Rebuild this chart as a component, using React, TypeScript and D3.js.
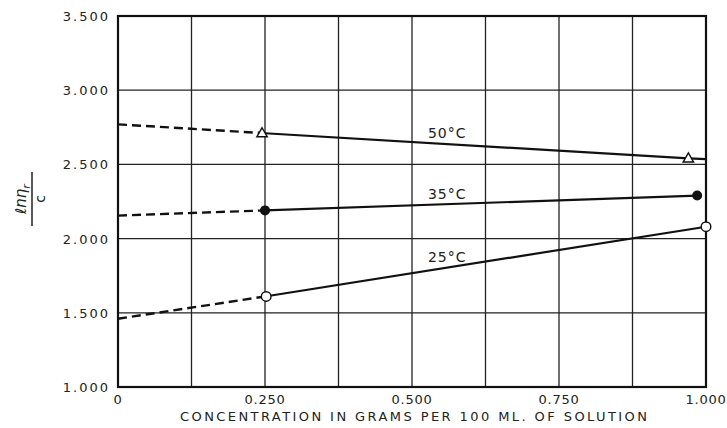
import React from "react";
import * as d3 from "d3";

const xTicks = [0, 0.25, 0.5, 0.75, 1.0];
const xTickLabels = ["0", "0.250", "0.500", "0.750", "1.000"];
const xGrid = [0, 0.125, 0.25, 0.375, 0.5, 0.625, 0.75, 0.875, 1.0];
const yTicks = [1.0, 1.5, 2.0, 2.5, 3.0, 3.5];
const yTickLabels = ["1.000", "1.500", "2.000", "2.500", "3.000", "3.500"];

const seriesNames = ["50°C", "35°C", "25°C"];
// extrapolated (dashed) segments: [x, y]
const dashed50: [number, number][] = [[0, 2.77], [0.25, 2.71]];
const dashed35: [number, number][] = [[0, 2.155], [0.25, 2.19]];
const dashed25: [number, number][] = [[0, 1.46], [0.25, 1.61]];
// measured (solid) segments
const solid50: [number, number][] = [[0.25, 2.71], [0.97, 2.54], [1.0, 2.535]];
const solid35: [number, number][] = [[0.25, 2.19], [0.985, 2.29]];
const solid25: [number, number][] = [[0.25, 1.61], [1.0, 2.08]];
// markers
const points50: [number, number][] = [[0.245, 2.71], [0.97, 2.54]];
const points35: [number, number][] = [[0.25, 2.19], [0.985, 2.29]];
const points25: [number, number][] = [[0.252, 1.61], [1.0, 2.08]];
// label anchors [x, y]
const labelPos: [number, number][] = [[0.527, 2.68], [0.527, 2.27], [0.527, 1.84]];

const W = 727;
const H = 428;
const left = 118, right = 706, top = 16, bottom = 387;

export default function App() {
  const x = d3.scaleLinear().domain([0, 1]).range([left, right]);
  const y = d3.scaleLinear().domain([1, 3.5]).range([bottom, top]);
  const line = d3.line<[number, number]>().x(d => x(d[0])).y(d => y(d[1]));
  const font = "'DejaVu Sans', sans-serif";

  const tri = (cx: number, cy: number, r: number) =>
    `M${cx},${cy - r} L${cx + r * 0.95},${cy + r * 0.65} L${cx - r * 0.95},${cy + r * 0.65} Z`;

  return (
    <svg width={W} height={H} style={{ position: "absolute", left: 0, top: 0, background: "#fff" }}>
      {/* grid */}
      {xGrid.map((g, i) => (
        <line key={"xg" + i} x1={x(g)} x2={x(g)} y1={top} y2={bottom} stroke="#222" strokeWidth={1.3} />
      ))}
      {yTicks.map((g, i) => (
        <line key={"yg" + i} x1={left} x2={right} y1={y(g)} y2={y(g)} stroke="#222" strokeWidth={1.3} />
      ))}
      {/* frame */}
      <rect x={left} y={top} width={right - left} height={bottom - top} fill="none" stroke="#111" strokeWidth={2.2} />

      {/* y tick labels */}
      {yTicks.map((t, i) => (
        <text key={"yt" + i} x={110} y={y(t) + 5} textAnchor="end" fontFamily={font} fontSize={13}
          letterSpacing={2} fill="#222">{yTickLabels[i]}</text>
      ))}
      {/* x tick labels */}
      {xTicks.map((t, i) => (
        <text key={"xt" + i} x={x(t)} y={404} textAnchor="middle" fontFamily={font} fontSize={13}
          letterSpacing={0.8} fill="#222">{xTickLabels[i]}</text>
      ))}
      {/* x axis title */}
      <text x={180} y={421} fontFamily={font} fontSize={13} textLength={467} lengthAdjust="spacing" fill="#222">
        CONCENTRATION IN GRAMS PER 100 ML. OF SOLUTION
      </text>
      {/* y axis title */}
      <g transform="translate(32,199) rotate(-90)">
        <text x={0} y={-6} textAnchor="middle" fontFamily={font} fontSize={15} fontStyle="italic" fill="#222">
          ℓnη<tspan fontSize={11} dy={4}>r</tspan>
        </text>
        <line x1={-27} x2={27} y1={0} y2={0} stroke="#222" strokeWidth={1.5} />
        <text x={0} y={13} textAnchor="middle" fontFamily={font} fontSize={14} fill="#222">c</text>
      </g>

      {/* lines */}
      {[dashed50, dashed35, dashed25].map((d, i) => (
        <path key={"d" + i} d={line(d) || ""} fill="none" stroke="#111" strokeWidth={2.4} strokeDasharray="9,5" />
      ))}
      {[solid50, solid35, solid25].map((d, i) => (
        <path key={"s" + i} d={line(d) || ""} fill="none" stroke="#111" strokeWidth={2.2} />
      ))}

      {/* markers */}
      {points50.map((p, i) => (
        <path key={"p50" + i} d={tri(x(p[0]), y(p[1]), 5.5)} fill="#fff" stroke="#111" strokeWidth={1.4} />
      ))}
      {points35.map((p, i) => (
        <circle key={"p35" + i} cx={x(p[0])} cy={y(p[1])} r={5} fill="#111" />
      ))}
      {points25.map((p, i) => (
        <circle key={"p25" + i} cx={x(p[0])} cy={y(p[1])} r={4.8} fill="#fff" stroke="#111" strokeWidth={1.4} />
      ))}

      {/* series labels */}
      {seriesNames.map((s, i) => (
        <text key={"l" + i} x={x(labelPos[i][0])} y={y(labelPos[i][1])} fontFamily={font} fontSize={14}
          letterSpacing={1} fill="#222">{s}</text>
      ))}
    </svg>
  );
}
